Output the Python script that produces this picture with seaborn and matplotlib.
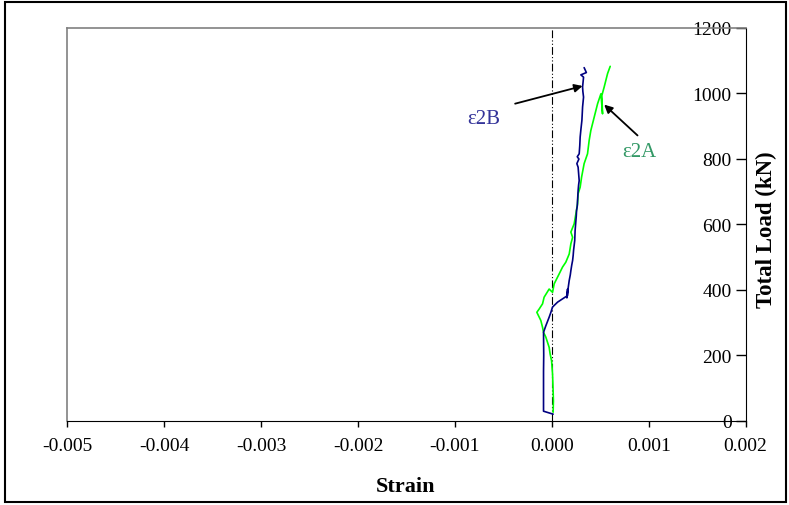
import numpy as np
import pandas as pd
import matplotlib
matplotlib.use('Agg')
import matplotlib.pyplot as plt
from matplotlib.patches import Rectangle
import seaborn as sns

# gauge 2B (dark blue)
strain_2b = [0.000013, -0.000086, -0.000086, -0.000084, -0.000086, -0.000062, -0.000028,
             -0.000010, 0.000007, 0.000059, 0.000110, 0.000162, 0.000162, 0.000155,
             0.000170, 0.000179, 0.000190, 0.000196, 0.000205, 0.000214, 0.000220,
             0.000224, 0.000230, 0.000236, 0.000240, 0.000248, 0.000252, 0.000255,
             0.000262, 0.000265, 0.000271, 0.000276, 0.000282, 0.000271, 0.000258,
             0.000279, 0.000262, 0.000282, 0.000288, 0.000292, 0.000300, 0.000310,
             0.000314, 0.000317, 0.000327, 0.000320, 0.000317, 0.000327, 0.000299,
             0.000356, 0.000333]
load_2b = [20, 29, 150, 200, 270, 290, 316,
           331, 347, 362, 372, 382, 402, 375,
           409, 428, 445, 458, 475, 489, 505,
           520, 535, 550, 581, 611, 625, 642,
           655, 672, 703, 720, 733, 774, 785,
           799, 806, 815, 840, 866, 890, 917,
           940, 958, 988, 1005, 1019, 1049, 1056,
           1063, 1078]

# gauge 2A (green)
strain_2a = [0.000013, 0.000016, 0.000013, 0.000007, -0.000003, -0.000018, -0.000028,
             -0.000062, -0.000086, -0.000096, -0.000114, -0.000155, -0.000131, -0.000096,
             -0.000080, -0.000028, 0.000007, 0.000024, 0.000075, 0.000110, 0.000144,
             0.000179, 0.000196, 0.000214, 0.000196, 0.000230, 0.000248, 0.000265,
             0.000271, 0.000292, 0.000307, 0.000333, 0.000368, 0.000385, 0.000402,
             0.000437, 0.000472, 0.000506, 0.000523, 0.000516, 0.000540, 0.000557,
             0.000575, 0.000602]
load_2a = [26, 60, 92, 143, 183, 204, 224,
           255, 270, 285, 306, 331, 341, 357,
           377, 402, 392, 418, 448, 469, 484,
           509, 540, 560, 576, 601, 632, 662,
           693, 713, 744, 785, 815, 856, 886,
           927, 968, 998, 937, 993, 1019, 1039,
           1060, 1082]

x_ticks = [-0.005, -0.004, -0.003, -0.002, -0.001, 0.000, 0.001, 0.002]
y_ticks = [0, 200, 400, 600, 800, 1000, 1200]

sns.set_style("white")
plt.rcParams['font.family'] = ['Liberation Serif', 'DejaVu Serif']
plt.rcParams['text.color'] = 'black'

fig = plt.figure(figsize=(7.89, 5.06), dpi=100)
ax = fig.add_axes([0.0853, 0.1666, 0.8598, 0.7767])

ax.axvline(0, color='black', lw=0.8, linestyle=(0, (7, 2, 1, 2, 1, 2)), zorder=1)

sns.lineplot(x=strain_2b, y=load_2b, sort=False, estimator=None,
             color='#000080', lw=1.2, ax=ax, zorder=3)
sns.lineplot(x=strain_2a, y=load_2a, sort=False, estimator=None,
             color='#00ff00', lw=1.2, ax=ax, zorder=2)

ax.set_xlim(-0.005, 0.002)
ax.set_ylim(0, 1200)
ax.set_xticks(x_ticks)
ax.set_xticklabels(['%.3f' % v for v in x_ticks])
ax.set_yticks(y_ticks)

# y axis sits on the right, labels inside the plot
ax.yaxis.set_ticks_position('right')
ax.tick_params(axis='y', direction='in', length=7, width=1, pad=-10,
               labelsize=14, labelright=True, labelleft=False, colors='black')
for t in ax.get_yticklabels():
    t.set_horizontalalignment('right')
ax.tick_params(axis='x', direction='out', length=4, width=1, pad=8,
               labelsize=14, bottom=True, colors='black')

ax.spines['left'].set_color('#808080')
ax.spines['top'].set_color('#808080')
ax.spines['left'].set_linewidth(1.2)
ax.spines['top'].set_linewidth(1.2)
ax.spines['right'].set_color('black')
ax.spines['bottom'].set_color('black')

fig.text(406 / 789, 1 - 487 / 506, 'Strain', ha='center', va='center',
         fontsize=16, fontweight='bold', color='black')
fig.text(766 / 789, 1 - 230 / 506, 'Total Load (kN)', ha='center', va='center',
         rotation=90, fontsize=16.5, fontweight='bold', color='black')

ax.annotate('', xy=(0.000317, 1022), xytext=(-0.000379, 968),
            arrowprops=dict(arrowstyle='-|>', color='black', lw=1.3, mutation_scale=12,
                            shrinkA=0, shrinkB=0))
ax.annotate('', xy=(0.000540, 965), xytext=(0.000884, 871),
            arrowprops=dict(arrowstyle='-|>', color='black', lw=1.3, mutation_scale=12,
                            shrinkA=0, shrinkB=0))
ax.text(-0.000707, 922, 'ε2B', color='#333399', fontsize=15, ha='center', va='center')
ax.text(0.000898, 821, 'ε2A', color='#339966', fontsize=15, ha='center', va='center')

fig.patches.append(Rectangle((5 / 789, 3 / 506), 781 / 789, 500 / 506,
                             transform=fig.transFigure, fill=False,
                             edgecolor='black', lw=1.5))

plt.savefig('out.png', dpi=100)
